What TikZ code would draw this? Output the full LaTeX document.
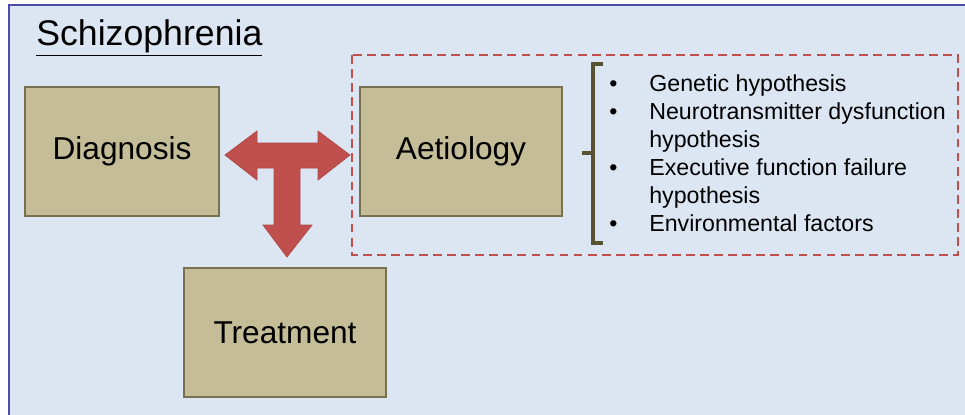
\documentclass[tikz,border=0pt]{standalone}
\usepackage{fontspec}
\setmainfont{Liberation Sans}
\usetikzlibrary{arrows.meta}

\definecolor{panelblue}{HTML}{DCE6F2}
\definecolor{edgeblue}{HTML}{4B4BA8}
\definecolor{boxfill}{HTML}{C4BD97}
\definecolor{boxedge}{HTML}{77714F}
\definecolor{arrowred}{HTML}{C0504D}
\definecolor{braceolive}{HTML}{57522F}

\begin{document}
\begin{tikzpicture}[x=0.02cm,y=-0.02cm,
    topicbox/.style={draw=boxedge,line width=0.8pt,fill=boxfill,minimum width=4.04cm,minimum height=2.58cm,font=\fontsize{18}{22}\selectfont,inner sep=0pt}]
    \useasboundingbox (0,0) rectangle (965,414);
    % background panel
    \fill[panelblue] (9,5) rectangle (970,420);
    \draw[edgeblue,line width=0.8pt] (9,420) -- (9,5) -- (970,5);
    \node[anchor=west,inner sep=0pt,font=\fontsize{20.3}{24}\selectfont] (title) at (36,38) {\underline{Schizophrenia}};
    % boxes
    \node[topicbox,minimum width=3.88cm] (diag) at (122,151.5) {Diagnosis};
    \node[topicbox] (aet) at (461,151.5) {Aetiology};
    \node[topicbox] (treat) at (285,332.5) {Treatment};
    % dashed frame round aetiology
    \draw[arrowred,line width=1.1pt,dash pattern=on 5pt off 3pt] (352,55) rectangle (958,255);
    % T-shaped block arrow
    \draw[arrowred!90!black,fill=arrowred,line width=0.4pt,line join=miter]
        (225,155) -- (257,131) -- (257,143) -- (318,143) -- (318,131) -- (350,155)
        -- (318,180) -- (318,168) -- (300,168) -- (300,225) -- (312,225) -- (287,257)
        -- (263,225) -- (274,225) -- (274,168) -- (257,168) -- (257,180) -- cycle;
    % brace
    \draw[braceolive,line width=2.2pt] (603,64) -- (593,64) -- (593,153) -- (582,153);
    \draw[braceolive,line width=2.2pt] (593,153) -- (593,243) -- (603,243);
    \node[anchor=west,inner sep=0pt,font=\fontsize{13.2}{15.9}\selectfont] (causes) at (609,156) {%
        \begin{tabular}{@{}p{0.8cm}@{}l@{}}
        \textbullet & Genetic hypothesis\\
        \textbullet & Neurotransmitter dysfunction\\
                    & hypothesis\\
        \textbullet & Executive function failure\\
                    & hypothesis\\
        \textbullet & Environmental factors
        \end{tabular}};
\end{tikzpicture}
\end{document}
